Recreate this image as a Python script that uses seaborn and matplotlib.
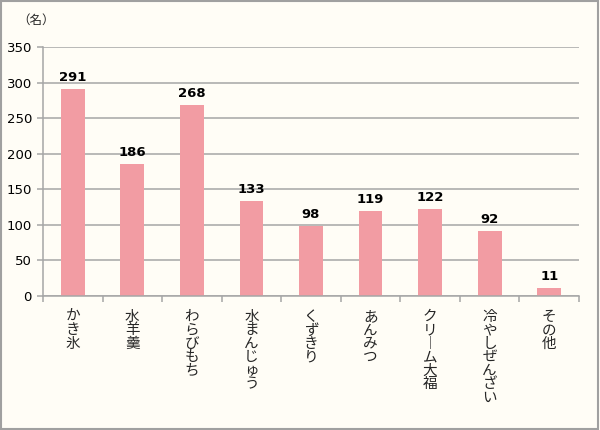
import matplotlib
matplotlib.use("Agg")
import matplotlib.pyplot as plt
import seaborn as sns
import pandas as pd
import numpy as np
from matplotlib.patches import Rectangle

categories = ["かき氷", "水羊羹", "わらびもち", "水まんじゅう", "くずきり", "あんみつ", "クリーム大福", "冷やしぜんざい", "その他"]
values = [291, 186, 268, 133, 98, 119, 122, 92, 11]
yticks = [0, 50, 100, 150, 200, 250, 300, 350]
unit_label = "（名）"

sns.set_theme(style="white")
plt.rcParams['font.family'] = ['DejaVu Sans', 'Noto Sans CJK JP']

bg = "#FFFDF6"
bar_color = "#F29CA3"
grid_color = "#A6A6A6"

fig = plt.figure(figsize=(6.0, 4.3), dpi=100, facecolor=bg)
ax = fig.add_axes([0.0717, 0.3116, 0.8933, 0.5791])
ax.set_facecolor(bg)

df = pd.DataFrame({"cat": categories, "val": values})
sns.barplot(data=df, x="cat", y="val", color=bar_color, width=0.4, ax=ax,
            saturation=1, edgecolor="none")

ax.set_ylim(0, 350)
ax.set_xlim(-0.5, len(categories) - 0.5)
ax.set_yticks(yticks)
ax.set_yticklabels([str(v) for v in yticks], fontsize=9.5, color="#000000")
ax.yaxis.grid(True, color=grid_color, linewidth=1.1)
ax.set_axisbelow(True)

def vertical(s):
    return "\n".join("︱" if ch == "ー" else ch for ch in s)

ax.set_xticks(range(len(categories)))
ax.set_xticklabels([vertical(c) for c in categories], fontsize=10.5,
                   linespacing=0.95, va="top", ha="center",
                   family=['Noto Sans CJK JP', 'DejaVu Sans'])
ax.tick_params(axis="x", which="major", length=0, pad=10)
ax.set_xticks(np.arange(-0.5, len(categories), 1.0), minor=True)
ax.tick_params(axis="x", which="minor", length=4, width=1.1, color=grid_color, direction="out", bottom=True)
ax.tick_params(axis="y", which="major", length=4, width=1.1, color=grid_color, direction="out", left=True, pad=4)
ax.set_xlabel("")
ax.set_ylabel("")

for s in ["top", "right"]:
    ax.spines[s].set_visible(False)
for s in ["left", "bottom"]:
    ax.spines[s].set_color(grid_color)
    ax.spines[s].set_linewidth(1.1)

for i, v in enumerate(values):
    ax.text(i, v + 7, str(v), ha="center", va="bottom", fontsize=9.5,
            fontweight="bold", color="#000000")

fig.text(17 / 600, 1 - 20 / 430, unit_label, fontsize=9, ha="left", va="center",
         family=['Noto Sans CJK JP', 'DejaVu Sans'])

fig.patches.append(Rectangle((0.002, 0.003), 0.995, 0.994, transform=fig.transFigure,
                             fill=False, edgecolor="#A0A0A0", linewidth=1.5))

fig.savefig("out.png", dpi=100, facecolor=bg)
